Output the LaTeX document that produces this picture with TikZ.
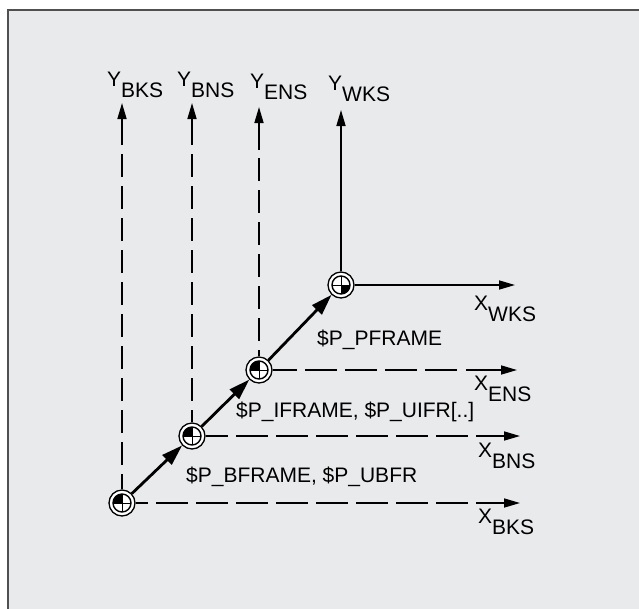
\documentclass[tikz,border=0pt]{standalone}
\usepackage{fontspec}
\setmainfont{Liberation Sans}
\usetikzlibrary{arrows.meta}
\definecolor{panel}{HTML}{E9EAEC}
\definecolor{rim}{HTML}{505050}
\begin{document}
\begin{tikzpicture}[x=1pt,y=-1pt,
 axisline/.style={line width=1.6pt,-{Triangle[length=16pt,width=9pt]}},
 vdash/.style={line width=1.6pt,dash pattern=on 23pt off 9pt},
 hdash/.style={line width=1.6pt,dash pattern=on 32pt off 8pt},
 framearrow/.style={line width=2.8pt,-{Triangle[length=21pt,width=13pt]}},
 lbl/.style={font=\fontsize{21}{25}\selectfont, inner sep=0pt, anchor=base west},
 origsym/.style={circle, minimum size=26pt, inner sep=0pt, draw, line width=1.3pt, fill=white, path picture={
   \coordinate (pc) at (path picture bounding box.center);
   \fill[black] (pc) -- ++(#1:9pt) arc[start angle=#1, delta angle=90, radius=9pt] -- cycle;
   \draw[black,line width=1.4pt] (pc) circle[radius=9pt];
   \draw[black,line width=0.8pt] ([xshift=-9pt]pc) -- ([xshift=9pt]pc) ([yshift=-9pt]pc) -- ([yshift=9pt]pc);
 }},
]
\useasboundingbox (0,0) rectangle (639,608);
\fill[white] (0,0) rectangle (639,608);
\fill[panel] (8,10) rectangle (645,615);
\draw[rim,line width=2pt] (8,615) -- (8,10) -- (645,10);

% origins
\node[origsym=90]  (bks) at (122,503) {};
\node[origsym=90]  (bns) at (192,436) {};
\node[origsym=90]  (ens) at (259,370) {};
\node[origsym=270] (wks) at (341,285) {};

% coordinates
\coordinate (ybksd) at (122,154); \coordinate (ybksg) at (122,145); \coordinate (ybkst) at (122,103);
\coordinate (ybnsd) at (192,154); \coordinate (ybnsg) at (192,145); \coordinate (ybnst) at (192,103);
\coordinate (yensd) at (259,158); \coordinate (yensg) at (259,150); \coordinate (yenst) at (259,107);
\coordinate (ywkst) at (341,110);
\coordinate (xwkst) at (515,285);
\coordinate (xensd) at (457,370); \coordinate (xensg) at (466,370); \coordinate (xenst) at (517,370);
\coordinate (xbnsd) at (468,436); \coordinate (xbnsg) at (476,436); \coordinate (xbnst) at (520,436);
\coordinate (xbksd) at (468,503); \coordinate (xbksg) at (476,503); \coordinate (xbkst) at (520,503);

% Y axes
\draw[vdash] (ybksd) -- (bks);
\draw[axisline] (ybksg) -- (ybkst);
\draw[vdash] (ybnsd) -- (bns);
\draw[axisline] (ybnsg) -- (ybnst);
\draw[vdash] (yensd) -- (ens);
\draw[axisline] (yensg) -- (yenst);
\draw[axisline] (wks) -- (ywkst);

% X axes
\draw[axisline] (wks) -- (xwkst);
\draw[hdash] (xensd) -- (ens);
\draw[axisline] (xensg) -- (xenst);
\draw[hdash] (xbnsd) -- (bns);
\draw[axisline] (xbnsg) -- (xbnst);
\draw[hdash] (xbksd) -- (bks);
\draw[axisline] (xbksg) -- (xbkst);

% frame shifts
\draw[framearrow] (bks) -- (bns);
\draw[framearrow] (bns) -- (ens);
\draw[framearrow] (ens) -- (wks);

% axis labels
\node[lbl] (lybks) at (107,86) {Y\raisebox{-11pt}{BKS}};
\node[lbl] (lybns) at (177,86) {Y\raisebox{-11pt}{BNS}};
\node[lbl] (lyens) at (250,88) {Y\raisebox{-11pt}{ENS}};
\node[lbl] (lywks) at (328,90) {Y\raisebox{-11pt}{WKS}};
\node[lbl] (lxwks) at (474,310) {X\raisebox{-11pt}{WKS}};
\node[lbl] (lxens) at (474,390) {X\raisebox{-11pt}{ENS}};
\node[lbl] (lxbns) at (478,457) {X\raisebox{-11pt}{BNS}};
\node[lbl] (lxbks) at (478,523) {X\raisebox{-11pt}{BKS}};

% frame labels
\node[lbl] (lp) at (317,345) {\$P\_PFRAME};
\node[lbl] (li) at (236,417) {\$P\_IFRAME, \$P\_UIFR[..]};
\node[lbl] (lb) at (186,482) {\$P\_BFRAME, \$P\_UBFR};
\end{tikzpicture}
\end{document}
